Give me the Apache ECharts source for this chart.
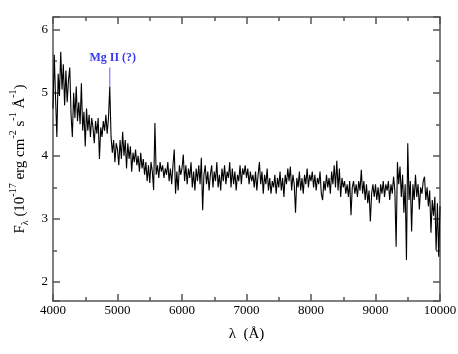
<!DOCTYPE html>
<html>
<head>
<meta charset="utf-8">
<script src="https://cdn.jsdelivr.net/npm/echarts@6/dist/echarts.min.js"></script>
<style>
  html, body { margin: 0; padding: 0; background: #fff; }
  #chart { width: 458px; height: 354px; }
</style>
</head>
<body>
<div id="chart"></div>
<script>
// wavelength grid (Å): one flux value every 20 Å from 4000 to 10000
var lamStart = 4000
var lamStep = 20

// flux (10^-17 erg cm^-2 s^-1 Å^-1), 1000 Å per block
var flux4000 = [
  4.75, 5.60, 4.90, 4.30, 5.30, 4.95, 5.65, 5.05, 5.45, 4.80,
  5.35, 4.85, 5.20, 5.40, 4.65, 4.30, 5.00, 4.60, 5.10, 4.55,
  4.85, 4.50, 5.15, 4.40, 4.70, 4.15, 4.75, 4.40, 4.65, 4.30,
  4.60, 4.45, 4.20, 4.55, 4.35, 4.60, 3.95, 4.45, 4.30, 4.55,
  4.40, 4.65, 4.35, 4.60, 5.10, 4.30, 4.05, 4.25, 3.90, 4.20
]
var flux5000 = [
  4.10, 3.85, 4.25, 3.95, 4.38, 4.00, 4.25, 3.80, 4.20, 3.95,
  4.15, 3.75, 4.05, 3.90, 4.10, 3.85, 4.00, 3.75, 4.05, 3.80,
  3.95, 3.70, 3.90, 3.60, 3.85, 3.57, 3.90, 3.75, 3.46, 4.52,
  3.70, 3.85, 3.65, 3.90, 3.75, 3.85, 3.65, 3.80, 3.70, 3.90,
  3.60, 3.80, 3.55, 3.85, 4.10, 3.40, 3.75, 3.45, 3.85, 3.70
]
var flux6000 = [
  3.80, 4.02, 3.60, 3.85, 3.55, 3.80, 3.65, 3.90, 3.50, 3.75,
  3.45, 3.80, 3.60, 3.85, 3.55, 3.97, 3.14, 3.70, 3.85, 3.55,
  3.75, 3.45, 3.70, 3.85, 3.50, 3.75, 3.60, 3.90, 3.50, 3.70,
  3.45, 3.80, 3.60, 3.85, 3.55, 3.75, 3.65, 3.90, 3.50, 3.80,
  3.55, 3.75, 3.45, 3.70, 3.60, 3.85, 3.55, 3.80, 3.70, 3.85
]
var flux7000 = [
  3.65, 3.80, 3.55, 3.75, 3.60, 3.70, 3.50, 3.75, 3.45, 3.70,
  3.90, 3.55, 3.75, 3.40, 3.70, 3.55, 3.80, 3.45, 3.65, 3.40,
  3.60, 3.50, 3.70, 3.40, 3.65, 3.50, 3.75, 3.45, 3.65, 3.35,
  3.70, 3.55, 3.80, 3.60, 3.83, 3.45, 3.70, 3.55, 3.10, 3.65,
  3.50, 3.75, 3.45, 3.65, 3.40, 3.70, 3.55, 3.80, 3.50, 3.70
]
var flux8000 = [
  3.60, 3.75, 3.50, 3.70, 3.45, 3.65, 3.55, 3.75, 3.40, 3.30,
  3.60, 3.45, 3.70, 3.50, 3.65, 3.40, 3.75, 3.55, 3.85, 3.50,
  3.92, 3.45, 3.80, 3.35, 3.65, 3.50, 3.60, 3.40, 3.55, 3.35,
  3.60, 3.06, 3.50, 3.60, 3.40, 3.55, 3.35, 3.60, 3.45, 3.78,
  3.40, 3.60, 3.30, 3.55, 3.25, 3.45, 2.96, 3.40, 3.55, 3.35
]
var flux9000 = [
  3.55, 3.30, 3.50, 3.25, 3.55, 3.40, 3.60, 3.35, 3.55, 3.45,
  3.60, 3.30, 3.55, 3.40, 3.67, 3.45, 2.56, 3.90, 3.55, 3.83,
  3.35, 3.70, 3.10, 3.55, 2.35, 4.20, 3.30, 3.60, 2.80, 3.55,
  3.30, 3.70, 3.35, 3.55, 3.15, 3.50, 3.40, 3.60, 3.67, 3.30,
  3.50, 3.20, 3.45, 2.78, 3.30, 3.05, 3.35, 2.50, 3.25, 2.40,
  3.20
]

// Mg II (?) marker: wavelength and the flux range of the little tick
var mgLam = 4880
var mgTick = [5.1, 5.4]

var flux = [].concat(flux4000, flux5000, flux6000, flux7000, flux8000, flux9000)
var spectrum = flux.map(function (v, i) { return [lamStart + i * lamStep, v] })

var serif = '"Liberation Serif", "DejaVu Serif", serif'
var axisColor = '#555'

function frameX (pos, showLabel) {
  return {
    type: 'value', position: pos, min: 4000, max: 10000, interval: 1000,
    axisLine: { show: true, onZero: false, lineStyle: { color: axisColor, width: 1.5 } },
    axisTick: { show: true, inside: true, length: 7, lineStyle: { color: axisColor, width: 1.5 } },
    minorTick: { show: true, splitNumber: 2, length: 4, lineStyle: { color: axisColor, width: 1.5 } },
    splitLine: { show: false },
    axisLabel: {
      show: showLabel, color: '#000', fontFamily: serif, fontSize: 13, margin: 3,
      formatter: function (v) { return String(v) }
    }
  }
}
function frameY (pos, showLabel) {
  return {
    type: 'value', position: pos, min: 1.7, max: 6.2,
    axisLine: { show: true, onZero: false, lineStyle: { color: axisColor, width: 1.5 } },
    axisTick: { show: true, inside: true, length: 7, lineStyle: { color: axisColor, width: 1.5 } },
    minorTick: { show: true, splitNumber: 2, length: 4, lineStyle: { color: axisColor, width: 1.5 } },
    splitLine: { show: false },
    axisLabel: {
      show: showLabel, color: '#000', fontFamily: serif, fontSize: 13, margin: 5,
      formatter: function (v) { return Math.abs(v - Math.round(v)) < 1e-6 ? String(Math.round(v)) : '' }
    }
  }
}

var xMain = frameX('bottom', true)
xMain.name = 'λ  (Å)'
xMain.nameLocation = 'middle'
xMain.nameGap = 26
xMain.nameTextStyle = { color: '#000', fontFamily: serif, fontSize: 15 }

var yMain = frameY('left', true)
yMain.name = '{m|F}{sub|λ}{m| (10}{sup|-17}{m| erg cm}{sup|-2}{m| s}{sup|-1}{m| Å}{sup|-1}{m|)}'
yMain.nameLocation = 'middle'
yMain.nameRotate = 90
yMain.nameGap = 22
yMain.nameTextStyle = {
  color: '#000', fontFamily: serif, fontSize: 15,
  rich: {
    m: { color: '#000', fontFamily: serif, fontSize: 15, lineHeight: 22 },
    sup: { color: '#000', fontFamily: serif, fontSize: 10, verticalAlign: 'top' },
    sub: { color: '#000', fontFamily: serif, fontSize: 10, verticalAlign: 'bottom' }
  }
}

var chart = echarts.init(document.getElementById('chart'))
chart.setOption({
  animation: false,
  grid: { left: 53, right: 18, top: 17, bottom: 53, outerBoundsMode: 'none' },
  xAxis: [xMain, frameX('top', false)],
  yAxis: [yMain, frameY('right', false)],
  series: [
    {
      name: 'spectrum',
      type: 'line',
      data: spectrum,
      showSymbol: false,
      silent: true,
      lineStyle: { color: '#000', width: 1.1 }
    },
    {
      name: 'Mg II',
      type: 'line',
      data: [[mgLam, mgTick[0]], [mgLam, mgTick[1]]],
      showSymbol: false,
      silent: true,
      lineStyle: { color: '#7a7aff', width: 1.2 }
    }
  ]
})

var mgTop = chart.convertToPixel({ xAxisIndex: 0, yAxisIndex: 0 }, [mgLam, mgTick[1]])
chart.setOption({
  graphic: [{
    type: 'text',
    x: mgTop[0] + 3,
    y: mgTop[1] - 4,
    style: {
      text: 'Mg II (?)',
      fill: '#3a3aee',
      font: 'bold 12px "Liberation Serif"',
      textAlign: 'center',
      textVerticalAlign: 'bottom'
    }
  }]
})
</script>
</body>
</html>
